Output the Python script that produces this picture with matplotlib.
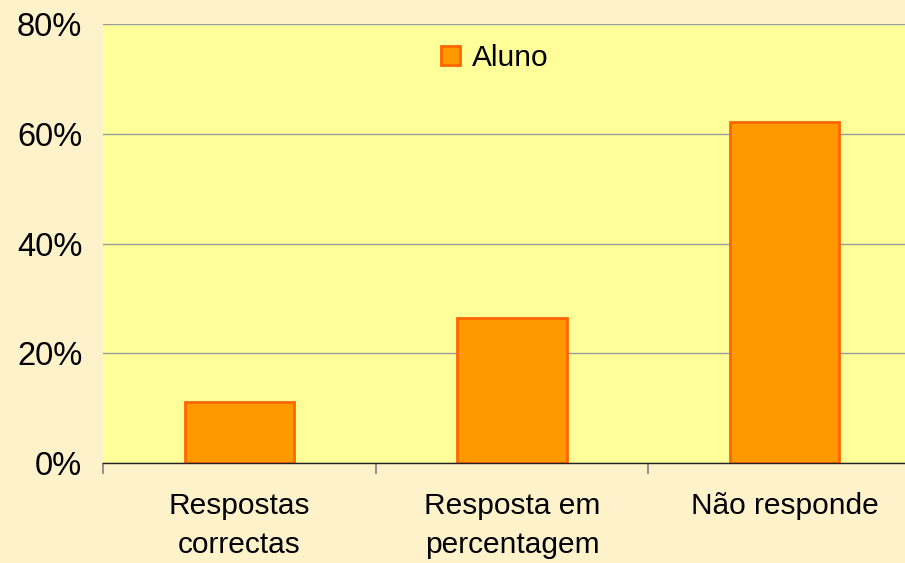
import matplotlib
matplotlib.use("Agg")
import matplotlib.pyplot as plt
from matplotlib.ticker import FuncFormatter, FixedLocator

categories = ["Respostas\ncorrectas", "Resposta em\npercentagem", "Não responde"]
aluno = [0.111, 0.264, 0.621]
yticks = [0, 0.2, 0.4, 0.6, 0.8]

plt.rcParams['font.family'] = ['Liberation Sans', 'DejaVu Sans']

W, H, DPI = 905, 563, 100
fig = plt.figure(figsize=(W / DPI, H / DPI), dpi=DPI, facecolor='#FEF2CB')
ax = fig.add_axes([103 / W, (H - 463) / H, 818 / W, 439 / H])
ax.set_facecolor('#FFFF99')

x = list(range(len(categories)))
ax.bar(x, aluno, width=0.40, color='#FF9900', edgecolor='#FF6600', linewidth=2,
       label='Aluno', zorder=3)

ax.set_xlim(-0.5, 2.5)
ax.set_ylim(0, 0.8)
ax.set_yticks(yticks)
ax.yaxis.set_major_formatter(FuncFormatter(lambda v, p: f"{v*100:.0f}%"))
ax.tick_params(axis='y', length=0, pad=15, labelsize=23.5, labelcolor='black')
ax.grid(axis='y', color='#9A9CA3', linewidth=1, zorder=1)

ax.set_xticks(x)
ax.set_xticklabels(categories, fontsize=21.5, linespacing=1.5)
ax.tick_params(axis='x', which='major', length=0, pad=21)
ax.xaxis.set_minor_locator(FixedLocator([-0.5, 0.5, 1.5]))
ax.tick_params(axis='x', which='minor', length=8, width=1.2, color='#808080')

for s in ['top', 'right', 'left']:
    ax.spines[s].set_visible(False)
ax.spines['bottom'].set_color('#222222')
ax.spines['bottom'].set_linewidth(1)
ax.spines['bottom'].set_zorder(4)

leg = ax.legend(loc='center', bbox_to_anchor=(0.479, 0.922), frameon=False,
                fontsize=21.5, handlelength=0.62, handleheight=0.62,
                handletextpad=0.4, borderpad=0)

fig.savefig('out.png', dpi=DPI, facecolor=fig.get_facecolor())
